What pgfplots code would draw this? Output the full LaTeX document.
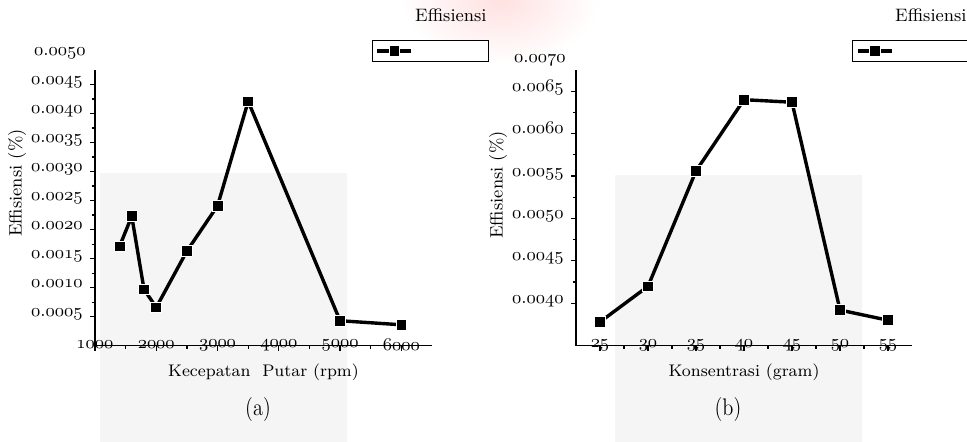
\documentclass[border=0pt]{standalone}
\usepackage{fontspec}
\usepackage{pgfplots}
\pgfplotsset{compat=1.18}

% old-style figures from the math italic font
\newcommand\osf[1]{{\fontencoding{OML}\fontfamily{cmm}\fontseries{m}\fontshape{it}\selectfont #1}}
\newcommand\osn[2]{\osf{#1}.\osf{#2}}

% one pixel of the reference = 0.5pt
\pgfplotsset{
  effplot/.style={
    scale only axis,
    height=137.85pt,
    axis lines*=left,
    axis line style={line width=0.6pt},
    tick align=outside,
    major tick length=2.6pt,
    minor tick length=1.6pt,
    every tick/.style={black, line width=0.6pt},
    minor x tick num=1,
    minor y tick num=1,
    scaled ticks=false,
    tick label style={font=\fontsize{9.5}{10}\selectfont},
    xticklabel style={anchor=center, yshift=3pt},
    yticklabel style={anchor=base east},
    every axis x label/.style={at={(axis description cs:0.5,-0.095)}, anchor=center, font=\fontsize{8.4}{10}\selectfont},
    every axis y label/.style={at={(axis description cs:-0.231,0.59)}, anchor=center, rotate=90, font=\fontsize{9}{10}\selectfont},
    legend style={at={(0.822,1.109)}, anchor=north west, draw=black, line width=0.6pt,
      inner xsep=1.5pt, inner ysep=0.5pt, nodes={inner sep=1pt}},
    legend cell align=left,
  },
  effline/.style={black, line width=1.7pt, mark=square*, mark size=2.7pt,
    mark options={fill=black, draw=white, line width=0.4pt, solid}},
}

\begin{document}
\begin{tikzpicture}
% faint watermark of the source page
\shade[inner color=red!12, outer color=white] (250pt,221pt) ellipse (50pt and 32pt);
\fill[black!4] (50pt,0pt) rectangle (173.5pt,134.5pt);
\fill[black!4] (307.5pt,0pt) rectangle (431pt,133.5pt);

\begin{axis}[effplot,
    at={(47.5pt,48.15pt)}, anchor=south west,
    width=168.5pt,
    xmin=1000, xmax=6500,
    ymin=0, ymax=0.00475,
    xtick={1000,2000,3000,4000,5000,6000},
    xticklabels={\osf{1000},\osf{2000},\osf{3000},\osf{4000},\osf{5000},\osf{6000}},
    ytick={0.0005,0.0010,0.0015,0.0020,0.0025,0.0030,0.0035,0.0040,0.0045},
    yticklabels={\osn{0}{0005},\osn{0}{0010},\osn{0}{0015},\osn{0}{0020},\osn{0}{0025},
      \osn{0}{0030},\osn{0}{0035},\osn{0}{0040},\osn{0}{0045}},
    xlabel={Kecepatan\ \ Putar (rpm)},
    ylabel={Effisiensi (\%)},
]
\addplot[effline] coordinates {
  (1400,0.00171) (1600,0.00223) (1800,0.00097) (2000,0.00066)
  (2500,0.00163) (3000,0.00241) (3500,0.00421) (5000,0.00043) (6000,0.00036)
};
\addlegendentry{\rule{0pt}{6pt}\hspace*{34pt}}
\end{axis}

\begin{axis}[effplot,
    at={(288pt,48.15pt)}, anchor=south west,
    width=168pt,
    xmin=22.5, xmax=57.5,
    ymin=0.0035, ymax=0.00675,
    xtick={25,30,35,40,45,50,55},
    xticklabels={\osf{25},\osf{30},\osf{35},\osf{40},\osf{45},\osf{50},\osf{55}},
    ytick={0.0040,0.0045,0.0050,0.0055,0.0060,0.0065},
    yticklabels={\osn{0}{0040},\osn{0}{0045},\osn{0}{0050},\osn{0}{0055},\osn{0}{0060},\osn{0}{0065}},
    xlabel={Konsentrasi (gram)},
    ylabel={Effisiensi (\%)},
    every axis y label/.append style={at={(axis description cs:-0.232,0.583)}},
]
\addplot[effline] coordinates {
  (25,0.00378) (30,0.00420) (35,0.00556) (40,0.00640)
  (45,0.00637) (50,0.00392) (55,0.00380)
};
\addlegendentry{\rule{0pt}{6pt}\hspace*{34pt}}
\end{axis}

% stray top tick labels and legend titles
\begin{scope}[every node/.style={font=\fontsize{9}{10}\selectfont}]
\node[anchor=base east, inner sep=0pt, font=\fontsize{9.5}{10}\selectfont] at (43pt,193pt) {\osn{0}{0050}};
\node[anchor=base east, inner sep=0pt, font=\fontsize{9.5}{10}\selectfont] at (283pt,189.5pt) {\osn{0}{0070}};
\node[anchor=base east, inner sep=0pt] at (243.5pt,210pt) {Effisiensi};
\node[anchor=base east, inner sep=0pt] at (483.5pt,210pt) {Effisiensi};
\end{scope}

\node[font=\fontsize{12}{14}\selectfont, xscale=0.85] at (129pt,16pt) {(a)};
\node[font=\fontsize{12}{14}\selectfont, xscale=0.85] at (364pt,16pt) {(b)};

\pgfresetboundingbox
\path[use as bounding box] (0pt,0pt) rectangle (483.5pt,221pt);
\end{tikzpicture}
\end{document}
